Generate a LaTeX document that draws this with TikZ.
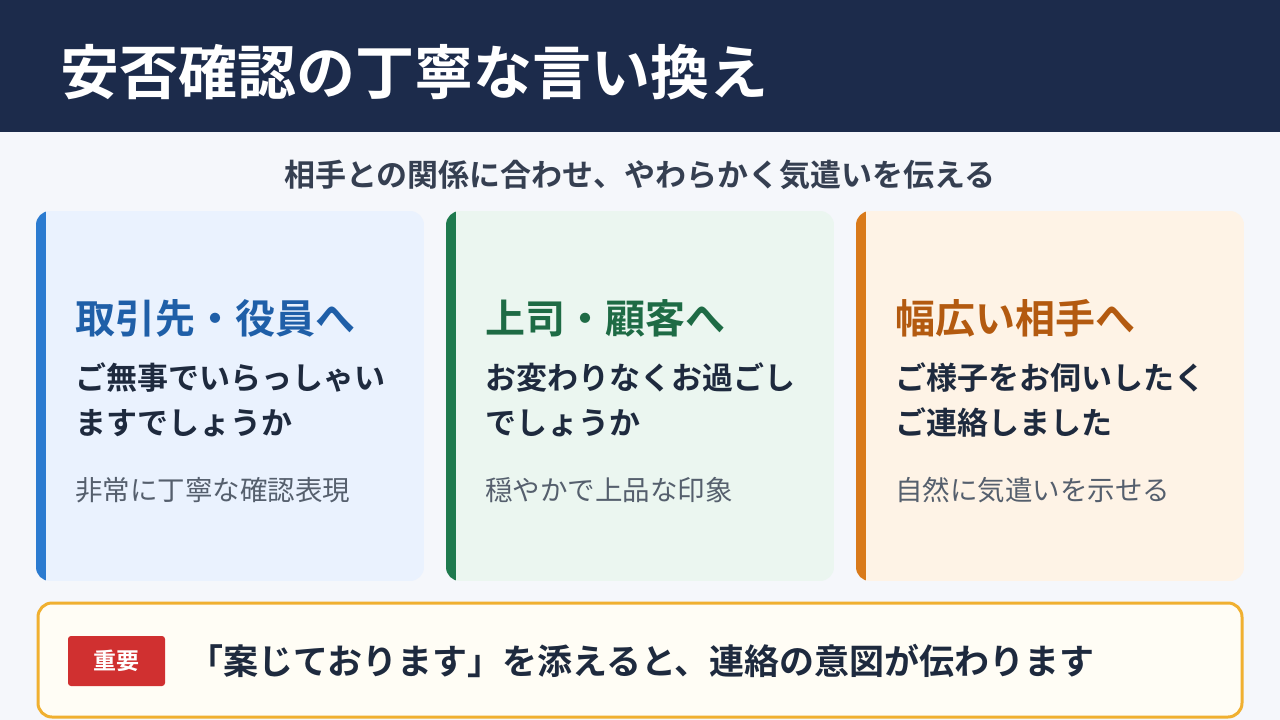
\documentclass[tikz,border=0pt]{standalone}
\usepackage{fontspec}
\setmainfont{Noto Sans CJK JP}[BoldFont={* Bold}]
\newfontfamily\jb{Noto Sans CJK JP Bold}
\definecolor{navy}{HTML}{1C2B4B}
\definecolor{bg}{HTML}{F5F7FB}
\definecolor{txt}{HTML}{1E2A3E}
\definecolor{sub}{HTML}{555F6D}
\definecolor{bA}{HTML}{2B7BD0}\definecolor{fA}{HTML}{EAF2FE}\definecolor{hA}{HTML}{1F5FA8}
\definecolor{bB}{HTML}{1E7A4E}\definecolor{fB}{HTML}{EBF6F0}\definecolor{hB}{HTML}{1E6B45}
\definecolor{bC}{HTML}{D97A1A}\definecolor{fC}{HTML}{FEF3E6}\definecolor{hC}{HTML}{B35A10}
\definecolor{gold}{HTML}{F0B030}\definecolor{cream}{HTML}{FFFDF5}\definecolor{red}{HTML}{D03030}
\tikzset{
 head/.style={anchor=west,inner sep=0,font=\jb\fontsize{40}{44}\selectfont},
 body/.style={anchor=north west,inner sep=0,align=left,text=txt,font=\jb\fontsize{31}{45}\selectfont},
 note/.style={anchor=west,inner sep=0,text=sub,font=\fontsize{27.5}{32}\selectfont},
}
\begin{document}
\begin{tikzpicture}[x=1pt,y=-1pt]
\useasboundingbox (0,0) rectangle (1280,720);
\fill[bg] (0,0) rectangle (1280,720);
\fill[navy] (0,0) rectangle (1280,132);
\node[anchor=west,inner sep=0,text=white,font=\jb\fontsize{59}{64}\selectfont] (title) at (60,72) {安否確認の丁寧な言い換え};
\node[inner sep=0,text=txt!90,font=\jb\fontsize{31}{36}\selectfont] (subt) at (640,175) {相手との関係に合わせ、やわらかく気遣いを伝える};
\foreach \x/\c/\h/\t/\a/\b/\n [count=\i] in {
 36/A/hA/取引先・役員へ/ご無事でいらっしゃい/ますでしょうか/非常に丁寧な確認表現,
 446/B/hB/上司・顧客へ/お変わりなくお過ごし/でしょうか/穏やかで上品な印象,
 856/C/hC/幅広い相手へ/ご様子をお伺いしたく/ご連絡しました/自然に気遣いを示せる}{
 \begin{scope}
 \clip[rounded corners=14pt] (\x,211) rectangle (\x+388,581);
 \fill[f\c] (\x,211) rectangle (\x+388,581);
 \fill[b\c] (\x,211) rectangle (\x+10,581);
 \end{scope}
 \node[head,text=\h] (h\i) at (\x+39,318) {\t};
 \node[body] (b\i) at (\x+39,362) {\a\\\b};
 \node[note] (n\i) at (\x+39,490) {\n};
}
\draw[gold,line width=3pt,fill=cream,rounded corners=14pt] (38,603) rectangle (1242,717);
\node[fill=red,rounded corners=3pt,minimum width=97pt,minimum height=50pt,text=white,font=\jb\fontsize{23}{26}\selectfont] (tag) at (116.5,661) {重要};
\node[anchor=west,inner sep=0,text=txt,font=\jb\fontsize{35}{40}\selectfont] (msg) at (188,661) {「案じております」を添えると、連絡の意図が伝わります};
\end{tikzpicture}
\end{document}
